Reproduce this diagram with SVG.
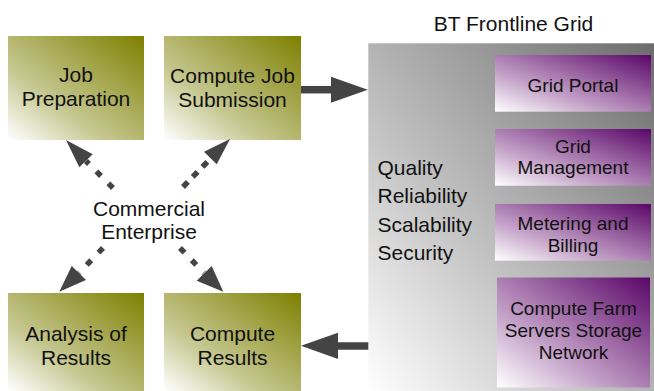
<svg xmlns="http://www.w3.org/2000/svg" width="654" height="391" viewBox="0 0 654 391">
<defs>
<linearGradient id="gOlive" x1="0" y1="1" x2="1" y2="0">
<stop offset="0" stop-color="#ffffff"/>
<stop offset="0.35" stop-color="#c6c892"/>
<stop offset="1" stop-color="#7e8000"/>
</linearGradient>
<linearGradient id="gPurple" x1="0" y1="1" x2="1" y2="0">
<stop offset="0" stop-color="#ffffff"/>
<stop offset="0.35" stop-color="#c4a2c8"/>
<stop offset="1" stop-color="#5a0668"/>
</linearGradient>
<linearGradient id="gGray" x1="0" y1="1" x2="1" y2="0">
<stop offset="0" stop-color="#ffffff"/>
<stop offset="0.4" stop-color="#c2c2c2"/>
<stop offset="1" stop-color="#6c6c6c"/>
</linearGradient>
</defs>
<style>
text{font-family:"Liberation Sans",Arial,sans-serif;fill:#111;}
.c{text-anchor:middle;}
.big{font-size:21px;}
.small{font-size:19px;}
.olive{fill:url(#gOlive);}
.purple{fill:url(#gPurple);}
.solid{stroke:#444;stroke-width:7.5;fill:none;}
.dash{stroke:#444;stroke-width:5.5;fill:none;stroke-dasharray:6.5 10.5;}
.head{fill:#444;}
</style>
<rect width="654" height="391" fill="#ffffff"/>

<g id="bt-frontline-grid">
<text class="big c" x="513.5" y="30.5">BT Frontline Grid</text>
<rect x="368.3" y="43.3" width="285.7" height="347.7" fill="url(#gGray)"/>
<text class="big" x="377.5" y="175">Quality</text>
<text class="big" x="377.5" y="203">Reliability</text>
<text class="big" x="377.5" y="231.5">Scalability</text>
<text class="big" x="377.5" y="260">Security</text>
</g>

<g id="job-preparation">
<rect class="olive" x="8" y="36" width="136" height="104"/>
<text class="big c" x="76" y="82">Job</text>
<text class="big c" x="76" y="106">Preparation</text>
</g>

<g id="compute-job-submission">
<rect class="olive" x="164" y="36" width="137" height="104"/>
<text class="big c" x="232.5" y="83">Compute Job</text>
<text class="big c" x="232.5" y="107">Submission</text>
</g>

<g id="commercial-enterprise">
<text class="big c" x="149" y="216">Commercial</text>
<text class="big c" x="149" y="239">Enterprise</text>
</g>

<g id="analysis-of-results">
<rect class="olive" x="8" y="293" width="136" height="98"/>
<text class="big c" x="76" y="341">Analysis of</text>
<text class="big c" x="76" y="364.5">Results</text>
</g>

<g id="compute-results">
<rect class="olive" x="164" y="293" width="137" height="98"/>
<text class="big c" x="232.5" y="341">Compute</text>
<text class="big c" x="232.5" y="364.5">Results</text>
</g>

<g id="grid-portal">
<rect class="purple" x="495" y="55" width="156" height="56.7"/>
<text class="small c" x="573" y="91.5">Grid Portal</text>
</g>

<g id="grid-management">
<rect class="purple" x="495" y="129" width="156" height="56.7"/>
<text class="small c" x="573" y="152.5">Grid</text>
<text class="small c" x="573" y="174">Management</text>
</g>

<g id="metering-and-billing">
<rect class="purple" x="495" y="204" width="156" height="56.7"/>
<text class="small c" x="573" y="230">Metering and</text>
<text class="small c" x="573" y="251.5">Billing</text>
</g>

<g id="compute-farm">
<rect class="purple" x="497" y="277.5" width="153" height="110"/>
<text class="small c" x="573.5" y="314.5">Compute Farm</text>
<text class="small c" x="573.5" y="337">Servers Storage</text>
<text class="small c" x="573.5" y="359">Network</text>
</g>

<g id="connectors">
<line class="solid" x1="301" y1="89.7" x2="332" y2="89.7"/>
<polygon class="head" points="331,76.7 367.8,89.7 331,102.7"/>
<line class="solid" x1="368.3" y1="346" x2="337" y2="346"/>
<polygon class="head" points="301,345.8 338,332.7 338,359"/>

<line class="dash" x1="113" y1="188" x2="86" y2="161"/>
<polygon class="head" points="66,140 79.3,167.3 92.7,154.3"/>
<line class="dash" x1="183" y1="187" x2="210" y2="159" style="stroke-dasharray:7 7"/>
<polygon class="head" points="230,139 204,151.7 216.7,164.3"/>
<line class="dash" x1="103" y1="248" x2="79" y2="273"/>
<polygon class="head" points="59.3,291.7 71.7,266 86,280"/>
<line class="dash" x1="180" y1="248" x2="204" y2="273"/>
<polygon class="head" points="223.3,291.7 196.7,280.7 211.7,266"/>
</g>
</svg>
